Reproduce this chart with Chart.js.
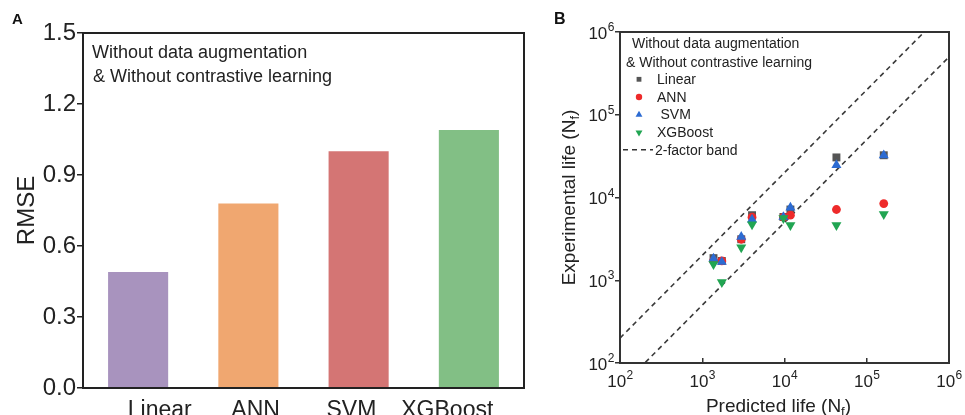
<!DOCTYPE html>
<html>
<head>
<meta charset="utf-8">
<script src="https://cdn.jsdelivr.net/npm/chart.js@4.4.1/dist/chart.umd.min.js"></script>
<style>
  body { margin: 0; background: #fff; width: 965px; height: 415px; overflow: hidden; position: relative; font-family: "Liberation Sans", Arial, sans-serif; }
  .panel { position: absolute; top: 0; }
  .tag { position: absolute; font-weight: bold; color: #111; line-height: 1; }
</style>
</head>
<body>
<canvas id="rmse-chart" class="panel" style="left:0" width="540" height="415"></canvas>
<canvas id="life-chart" class="panel" style="left:540px" width="425" height="415"></canvas>
<div class="tag" style="left:12px;top:11px;font-size:15px">A</div>
<div class="tag" style="left:554px;top:11px;font-size:16px">B</div>
<script>
'use strict';

// panel A: RMSE per model
const models = ['Linear', 'ANN', 'SVM', 'XGBoost'];
const rmse = [0.49, 0.78, 1.0, 1.09];
const barColors = ['#a893be', '#f0a770', '#d47574', '#82bf85'];
const rmseTicks = [0, 0.3, 0.6, 0.9, 1.2, 1.5];
const noteLines = ['Without data augmentation', '& Without contrastive learning'];

// panel B: predicted vs experimental life
const predictedLife = [1370, 1730, 2980, 4030, 9700, 11800, 42800, 161000];
const linearLife = [1850, 1710, 3130, 6110, 5820, 7160, 30500, 32400];
const annLife = [1710, 1710, 3130, 5780, 5780, 6110, 7160, 8450];
const svmLife = [1830, 1665, 3340, 5420, 5820, 7570, 24600, 32400];
const xgbLife = [1560, 950, 2490, 4720, 5620, 4620, 4620, 6280];
const lifeTicks = [1e2, 1e3, 1e4, 1e5, 1e6];
const lifeTickLabels = ['10^2', '10^3', '10^4', '10^5', '10^6'];
const bandFactor = 2;
const bandLabel = '2-factor band';

const FONT = '"Liberation Sans", Arial, sans-serif';
Chart.defaults.font.family = FONT;
Chart.defaults.color = '#222';

function framePlugin(color, width) { // box round the plot area
    return {
        id: 'frame',
        afterDraw(chart) {
            const { ctx, chartArea: a } = chart;
            ctx.save();
            ctx.strokeStyle = color;
            ctx.lineWidth = width;
            ctx.strokeRect(a.left, a.top, a.right - a.left, a.bottom - a.top);
            ctx.restore();
        }
    };
}

// ---------- panel A ----------
new Chart(document.getElementById('rmse-chart'), {
    type: 'bar',
    data: {
        labels: models,
        datasets: [{
            data: rmse,
            backgroundColor: barColors,
            barPercentage: 0.545,
            categoryPercentage: 1
        }]
    },
    options: {
        responsive: false,
        animation: false,
        layout: { padding: { top: 33, right: 16, left: 0, bottom: 0 } },
        plugins: { legend: { display: false }, tooltip: { enabled: false } },
        scales: {
            x: {
                grid: { drawOnChartArea: false, drawTicks: false, color: '#222' },
                border: { color: '#222', width: 2 },
                ticks: { display: false },
                afterFit: s => { s.height = 0; }
            },
            // model names sit a little closer together than the bars in the original
            names: {
                type: 'linear',
                position: 'bottom',
                offset: false,
                bounds: 'data',
                grace: 0,
                min: -0.8,
                max: models.length - 0.2,
                afterBuildTicks: s => { s.ticks = models.map((m, i) => ({ value: i })); },
                ticks: { callback: (v, i) => models[i], font: { size: 23 }, color: '#222', padding: 1, maxRotation: 0, autoSkip: false },
                grid: { display: false, offset: false },
                border: { display: false },
                afterFit: s => { s.height = 27; s.paddingLeft = 0; s.paddingRight = 0; }
            },
            y: {
                min: 0,
                max: 1.5,
                afterBuildTicks: s => { s.ticks = rmseTicks.map(v => ({ value: v })); },
                ticks: { callback: v => v.toFixed(1), font: { size: 24 }, color: '#222', padding: 1 },
                grid: { drawOnChartArea: false, tickLength: 6, lineWidth: 1.5, color: '#222' },
                border: { color: '#222', width: 2 },
                title: { display: true, text: 'RMSE', font: { size: 24 }, color: '#222', padding: { top: 13, bottom: 0 } },
                afterFit: s => { s.width = 83; }
            }
        }
    },
    plugins: [framePlugin('#222', 2), {
        id: 'noteA',
        afterDraw(chart) {
            const { ctx, chartArea: a } = chart;
            ctx.save();
            ctx.font = '18px ' + FONT;
            ctx.fillStyle = '#222';
            ctx.fillText(noteLines[0], a.left + 9, a.top + 25);
            ctx.fillText(noteLines[1], a.left + 10, a.top + 48.7);
            ctx.restore();
        }
    }]
});

// ---------- panel B ----------
const lifeSeries = [
    { label: models[0], values: linearLife, color: '#555555', style: 'rect', radius: 5.6, legendRadius: 3.4, rotation: 0 },
    { label: models[1], values: annLife, color: '#ee2a2a', style: 'circle', radius: 4.4, legendRadius: 3.2, rotation: 0 },
    { label: models[2], values: svmLife, color: '#2c6bd2', style: 'triangle', radius: 5.8, legendRadius: 4, rotation: 0 },
    { label: models[3], values: xgbLife, color: '#21a552', style: 'triangle', radius: 5.8, legendRadius: 4, rotation: 180 }
];

const bandX = [lifeTicks[0], lifeTicks[lifeTicks.length - 1]];
const bandStyle = { type: 'line', borderColor: '#3a3a3a', borderWidth: 1.6, borderDash: [5, 4], pointRadius: 0, clip: 0, order: 10 };

const lifeDatasets = lifeSeries.map((s, i) => ({
    label: s.label,
    data: predictedLife.map((x, j) => ({ x: x, y: s.values[j] })),
    pointStyle: s.style,
    pointRadius: s.radius,
    rotation: s.rotation,
    backgroundColor: s.color,
    borderColor: s.color,
    borderWidth: 0,
    order: lifeSeries.length - i
}));
lifeDatasets.push(Object.assign({ label: bandLabel, data: bandX.map(x => ({ x: x, y: x * bandFactor })) }, bandStyle));
lifeDatasets.push(Object.assign({ label: bandLabel, data: bandX.map(x => ({ x: x, y: x / bandFactor })) }, bandStyle));

function drawSubText(ctx, parts, x, y, size) { // "text (N" + subscript f + ")" centred on x
    const subSize = Math.round(size * 0.68);
    ctx.font = size + 'px ' + FONT;
    const w0 = ctx.measureText(parts[0]).width;
    const w2 = ctx.measureText(parts[2]).width;
    ctx.font = subSize + 'px ' + FONT;
    const w1 = ctx.measureText(parts[1]).width;
    let cx = x - (w0 + w1 + w2) / 2;
    ctx.textAlign = 'left';
    ctx.font = size + 'px ' + FONT;
    ctx.fillText(parts[0], cx, y);
    cx += w0;
    ctx.font = subSize + 'px ' + FONT;
    ctx.fillText(parts[1], cx, y + size * 0.22);
    cx += w1;
    ctx.font = size + 'px ' + FONT;
    ctx.fillText(parts[2], cx, y);
}

function drawPower(ctx, label, x, y, align) { // "10^n" as 10 with a raised exponent
    const [base, exp] = label.split('^');
    ctx.font = '17px ' + FONT;
    const wb = ctx.measureText(base).width;
    ctx.font = '12px ' + FONT;
    const we = ctx.measureText(exp).width;
    const left = align === 'right' ? x - wb - we : x - (wb + we) / 2;
    ctx.textAlign = 'left';
    ctx.font = '17px ' + FONT;
    ctx.fillText(base, left, y);
    ctx.font = '12px ' + FONT;
    ctx.fillText(exp, left + wb + 0.5, y - 7.5);
}

const xTitle = ['Predicted life (N', 'f', ')'];
const yTitle = ['Experimental life (N', 'f', ')'];

new Chart(document.getElementById('life-chart'), {
    type: 'scatter',
    data: { datasets: lifeDatasets },
    options: {
        responsive: false,
        animation: false,
        layout: { padding: { top: 32, right: 16, left: 0, bottom: 0 } },
        plugins: { legend: { display: false }, tooltip: { enabled: false } },
        scales: {
            x: {
                type: 'logarithmic',
                min: lifeTicks[0],
                max: lifeTicks[lifeTicks.length - 1],
                afterBuildTicks: s => { s.ticks = lifeTicks.map(v => ({ value: v })); },
                ticks: { display: false },
                grid: { drawOnChartArea: false, tickLength: -5, lineWidth: 1.5, color: '#333' },
                border: { color: '#333', width: 2 },
                afterFit: s => { s.height = 52; s.paddingLeft = 0; s.paddingRight = 0; }
            },
            y: {
                type: 'logarithmic',
                min: lifeTicks[0],
                max: lifeTicks[lifeTicks.length - 1],
                afterBuildTicks: s => { s.ticks = lifeTicks.map(v => ({ value: v })); },
                ticks: { display: false },
                grid: { drawOnChartArea: false, tickLength: 5, lineWidth: 1.5, color: '#333' },
                border: { color: '#333', width: 2 },
                afterFit: s => { s.width = 80; s.paddingTop = 0; s.paddingBottom = 0; }
            }
        }
    },
    plugins: [framePlugin('#333', 2), {
        id: 'legendB',
        afterDraw(chart) {
            const { ctx, chartArea: a, scales } = chart;
            ctx.save();
            ctx.fillStyle = '#222';

            // decade tick labels
            lifeTicks.forEach((v, i) => {
                drawPower(ctx, lifeTickLabels[i], scales.x.getPixelForValue(v), a.bottom + 23.8, 'center');
                drawPower(ctx, lifeTickLabels[i], a.left - 6, scales.y.getPixelForValue(v) + 6.5, 'right');
            });

            ctx.font = '14px ' + FONT;
            ctx.fillText(noteLines[0], a.left + 12, a.top + 15.7);
            ctx.fillText(noteLines[1], a.left + 6, a.top + 34.7);
            const rowH = 17.7;
            lifeSeries.forEach((s, i) => {
                const base = a.top + 52 + i * rowH;
                ctx.fillStyle = s.color;
                ctx.strokeStyle = s.color;
                Chart.helpers.drawPoint(ctx, { pointStyle: s.style, radius: s.legendRadius, rotation: s.rotation, borderWidth: 0 }, a.left + 19, base - 4.7);
                ctx.fillStyle = '#222';
                ctx.font = '14px ' + FONT;
                ctx.fillText(s.label, a.left + 37 + (i === 2 ? 3.5 : 0), base);
            });
            const base = a.top + 52 + lifeSeries.length * rowH;
            ctx.strokeStyle = '#333';
            ctx.lineWidth = 1.6;
            ctx.setLineDash([5, 4]);
            ctx.beginPath();
            ctx.moveTo(a.left + 3, base - 5);
            ctx.lineTo(a.left + 33, base - 5);
            ctx.stroke();
            ctx.setLineDash([]);
            ctx.fillText(bandLabel, a.left + 35, base);

            // axis titles with subscript f
            drawSubText(ctx, xTitle, (a.left + a.right) / 2 - 6, 411.7, 19);
            ctx.save();
            ctx.translate(35, (a.top + a.bottom) / 2);
            ctx.rotate(-Math.PI / 2);
            drawSubText(ctx, yTitle, 0, 0, 19);
            ctx.restore();
            ctx.restore();
        }
    }]
});
</script>
</body>
</html>
